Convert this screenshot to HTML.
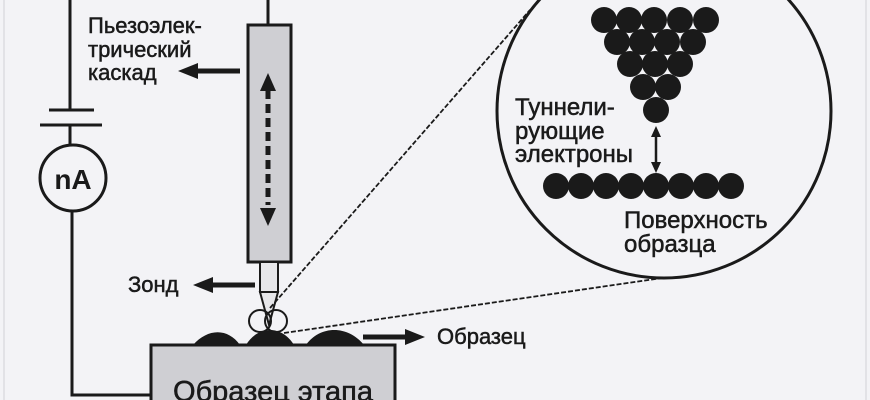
<!DOCTYPE html>
<html><head><meta charset="utf-8"><style>
html,body{margin:0;padding:0;background:#f3f3f6;}
svg{display:block;}
text{font-family:"Liberation Sans","DejaVu Sans",sans-serif;fill:#1a1a1a;stroke:#1a1a1a;stroke-width:0.5;}
</style></head><body>
<svg width="870" height="400" viewBox="0 0 870 400" xmlns="http://www.w3.org/2000/svg">
<rect x="0" y="0" width="870" height="400" fill="#f3f3f6"/>
<line x1="4" y1="0" x2="4" y2="400" stroke="#dcdce0" stroke-width="1.5"/>
<line x1="866" y1="0" x2="866" y2="400" stroke="#dcdce0" stroke-width="1.5"/>
<g stroke="#1a1a1a" stroke-width="3" fill="none">
<polyline points="70,0 70,110"/>
<line x1="49" y1="110" x2="94" y2="110"/>
<line x1="40" y1="125" x2="102" y2="125"/>
<line x1="70" y1="125" x2="70" y2="145"/>
<circle cx="73" cy="178" r="33" fill="#f3f3f6"/>
<polyline points="72,212 72,395 150,395"/>
<line x1="268" y1="0" x2="268" y2="25"/>
</g>
<text x="73" y="189" font-size="28" font-weight="bold" text-anchor="middle" style="stroke-width:0">nA</text>
<rect x="248" y="25" width="43" height="237" fill="#cfcfd3" stroke="#1a1a1a" stroke-width="3"/>
<line x1="268" y1="90" x2="268" y2="205" stroke="#1a1a1a" stroke-width="5" stroke-dasharray="9,5"/>
<polygon points="268,73 260,91 276,91" fill="#1a1a1a"/>
<polygon points="268,226 260,208 276,208" fill="#1a1a1a"/>
<rect x="260" y="262" width="18" height="30" fill="#e6e6e9" stroke="#1a1a1a" stroke-width="2"/>
<polygon points="260,292 278,292 269,325" fill="#e6e6e9" stroke="#1a1a1a" stroke-width="2"/>
<circle cx="260" cy="321" r="11" fill="none" stroke="#1a1a1a" stroke-width="2"/>
<circle cx="276" cy="321" r="11" fill="none" stroke="#1a1a1a" stroke-width="2"/>
<line x1="240" y1="71" x2="195" y2="71" stroke="#1a1a1a" stroke-width="5"/>
<polygon points="178,71 198,63 198,79" fill="#1a1a1a"/>
<line x1="255" y1="285" x2="210" y2="285" stroke="#1a1a1a" stroke-width="5"/>
<polygon points="193,285 213,277 213,293" fill="#1a1a1a"/>
<line x1="363" y1="337" x2="408" y2="337" stroke="#1a1a1a" stroke-width="5"/>
<polygon points="425,337 405,329 405,345" fill="#1a1a1a"/>
<path d="M193,345 C208,328 228,328 240,345 Z M246,345 C258,325 282,325 294,345 Z M306,345 C320,325 348,325 364,345 Z" fill="#1a1a1a"/>
<rect x="151" y="345" width="244" height="60" fill="#cfcfd3" stroke="#1a1a1a" stroke-width="3"/>
<text x="273" y="401" font-size="29" text-anchor="middle">Образец этапа</text>
<g font-size="22">
<text x="88" y="33">Пьезоэлек-</text>
<text x="88" y="57">трический</text>
<text x="88" y="80">каскад</text>
<text x="128" y="292">Зонд</text>
<text x="437" y="344">Образец</text>
</g>
<line x1="270" y1="308" x2="530" y2="10" stroke="#1a1a1a" stroke-width="1.8" stroke-dasharray="5,2"/>
<line x1="284" y1="333" x2="662" y2="278" stroke="#1a1a1a" stroke-width="1.8" stroke-dasharray="5,2"/>
<circle cx="664" cy="111" r="167" fill="#f3f3f6" stroke="#1a1a1a" stroke-width="3"/>
<g fill="#1a1a1a">
<circle cx="604" cy="20" r="13"/><circle cx="629" cy="20" r="13"/><circle cx="654" cy="20" r="13"/><circle cx="680" cy="20" r="13"/><circle cx="706" cy="20" r="13"/>
<circle cx="617" cy="42" r="13"/><circle cx="642" cy="42" r="13"/><circle cx="667" cy="42" r="13"/><circle cx="693" cy="42" r="13"/>
<circle cx="630" cy="64" r="13"/><circle cx="655" cy="64" r="13"/><circle cx="680" cy="64" r="13"/>
<circle cx="643" cy="87" r="13"/><circle cx="668" cy="87" r="13"/>
<circle cx="656" cy="110" r="13"/>
<circle cx="556" cy="186" r="13"/><circle cx="581" cy="186" r="13"/><circle cx="606" cy="186" r="13"/><circle cx="631" cy="186" r="13"/><circle cx="656" cy="186" r="13"/><circle cx="681" cy="186" r="13"/><circle cx="706" cy="186" r="13"/><circle cx="731" cy="186" r="13"/>
</g>
<line x1="656" y1="134" x2="656" y2="166" stroke="#1a1a1a" stroke-width="2.5"/>
<polygon points="656,126 651,137 661,137" fill="#1a1a1a"/>
<polygon points="656,173 651,162 661,162" fill="#1a1a1a"/>
<g font-size="24">
<text x="515" y="115">Туннели-</text>
<text x="515" y="139">рующие</text>
<text x="515" y="162">электроны</text>
<text x="624" y="228">Поверхность</text>
<text x="624" y="252">образца</text>
</g>
</svg>
</body></html>
